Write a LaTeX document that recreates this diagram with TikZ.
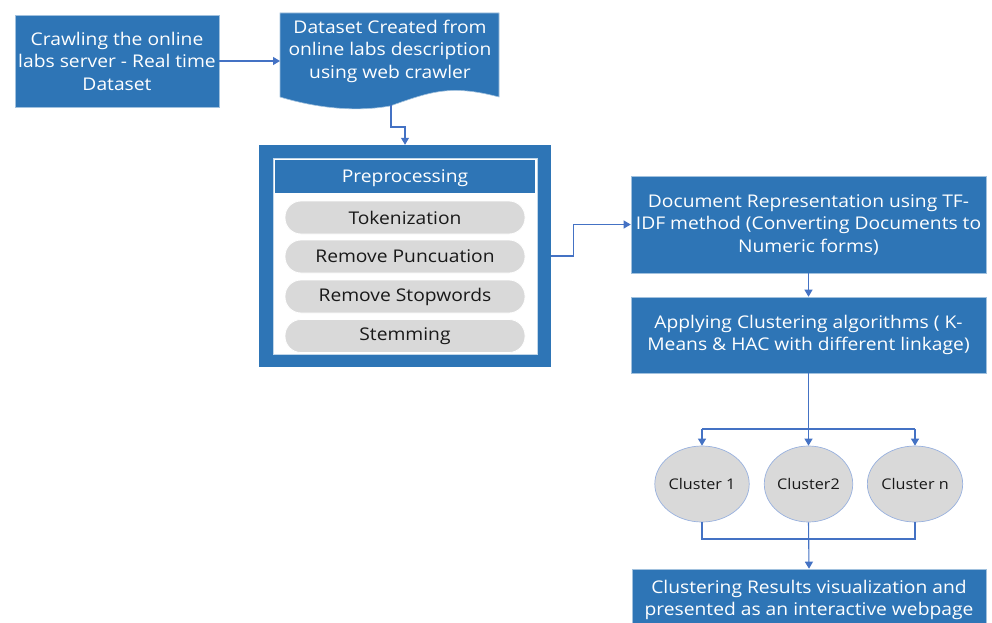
\documentclass[tikz,border=0pt]{standalone}
\usepackage{fontspec}
\setmainfont[FakeStretch=1.1]{Open Sans}
\usetikzlibrary{shapes.geometric,arrows.meta}
\definecolor{boxblue}{HTML}{2E75B6}
\definecolor{lineblue}{HTML}{4472C4}
\definecolor{pillgray}{HTML}{D9D9D9}
\begin{document}
\begin{tikzpicture}[x=1pt,y=-1pt,
  bluebox/.style={draw=boxblue!45!white, line width=0.6pt, fill=boxblue, text=white, align=center,
    font=\fontsize{17.5}{22.5}\selectfont, inner sep=0pt},
  conn/.style={draw=lineblue, line width=1.1pt, -{Triangle[length=7pt,width=8pt]}},
  wire/.style={draw=lineblue, line width=1.1pt},
  pill/.style={fill=pillgray, draw=white, line width=0.8pt, rounded corners=16pt, minimum width=240pt,
    minimum height=33pt, font=\fontsize{17.5}{20}\selectfont, inner sep=0pt, text=black!90},
  cluster/.style={ellipse, fill=pillgray, draw=lineblue!55, line width=0.7pt, minimum width=88pt,
    minimum height=76pt, inner sep=0pt, font=\fontsize{14.7}{16}\selectfont, text=black!90}]
\clip (0,0) rectangle (992,623);
\fill[white] (0,0) rectangle (992,623);

% box 1
\node[bluebox, minimum width=204pt, minimum height=92pt] (crawl) at (117,61)
  {Crawling the online\\labs server - Real time\\Dataset};

% document shape
\path[fill=boxblue, draw=boxblue!45!white, line width=0.6pt]
  (280,13) -- (499,13) -- (499,97)
  .. controls (450,84) and (430,92) .. (390,106)
  .. controls (350,113) and (310,106) .. (280,97) -- cycle;
\node[text=white, align=center, font=\fontsize{17.5}{22.5}\selectfont, inner sep=0pt] (doc) at (390,51)
  {Dataset Created from\\online labs description\\using web crawler};
\coordinate (docin) at (280,61);
\coordinate (docout) at (391,105);

% preprocessing
\node[fill=boxblue, minimum width=292pt, minimum height=222pt, inner sep=0pt] (pre) at (405,256) {};
\node[fill=white, draw=boxblue!30!white, line width=0.6pt, minimum width=264pt, minimum height=196pt, inner sep=0pt] (preinner) at (405,256) {};
\node[fill=boxblue, minimum width=260pt, minimum height=33pt, inner sep=0pt] (head) at (405,176.5) {};
\node[text=white, inner sep=0pt, font=\fontsize{17.5}{20}\selectfont] (headtext) at (405,178.5) {Preprocessing};
\node[pill] (tok) at (405,217.5) {Tokenization};
\node[pill] (punc) at (405,256.5) {Remove Puncuation};
\node[pill] (stop) at (405,296.5) {Remove Stopwords};
\node[pill] (stem) at (405,336) {Stemming};

% right column
\node[bluebox, minimum width=355pt, minimum height=97pt] (tfidf) at (808.5,224.5)
  {Document Representation using TF-\\IDF method (Converting Documents to\\Numeric forms)};
\node[bluebox, minimum width=355pt, minimum height=76pt] (algo) at (808.5,335)
  {Applying Clustering algorithms ( K-\\Means \& HAC with different linkage)};

\node[cluster] (c1) at (702,484) {Cluster 1};
\node[cluster] (c2) at (808.5,484) {Cluster2};
\node[cluster] (cn) at (915,484) {Cluster n};

\node[bluebox, minimum width=354pt, minimum height=62pt] (res) at (809,600)
  {Clustering Results visualization and\\presented as an interactive webpage};

% connectors
\draw[conn] (crawl.east) -- (docin);
\draw[conn] (docout) -- (391,127) -- (405,127) -- (pre.north);
\draw[conn] (pre.east) -- ++(22,0) |- (tfidf.west);
\draw[conn] (tfidf.south) -- (algo.north);
\coordinate (split) at (808.5,429);
\coordinate (join) at (808.5,539);
\draw[conn] (algo.south) -- (c2.north);
\draw[wire] (split -| c1.north) -- (split -| cn.north);
\draw[conn] (split -| c1.north) -- (c1.north);
\draw[conn] (split -| cn.north) -- (cn.north);
\draw[wire] (c1.south) -- (join -| c1.south) -- (join -| cn.south) -- (cn.south);
\draw[conn] (c2.south) -- (res.north);
\end{tikzpicture}
\end{document}
